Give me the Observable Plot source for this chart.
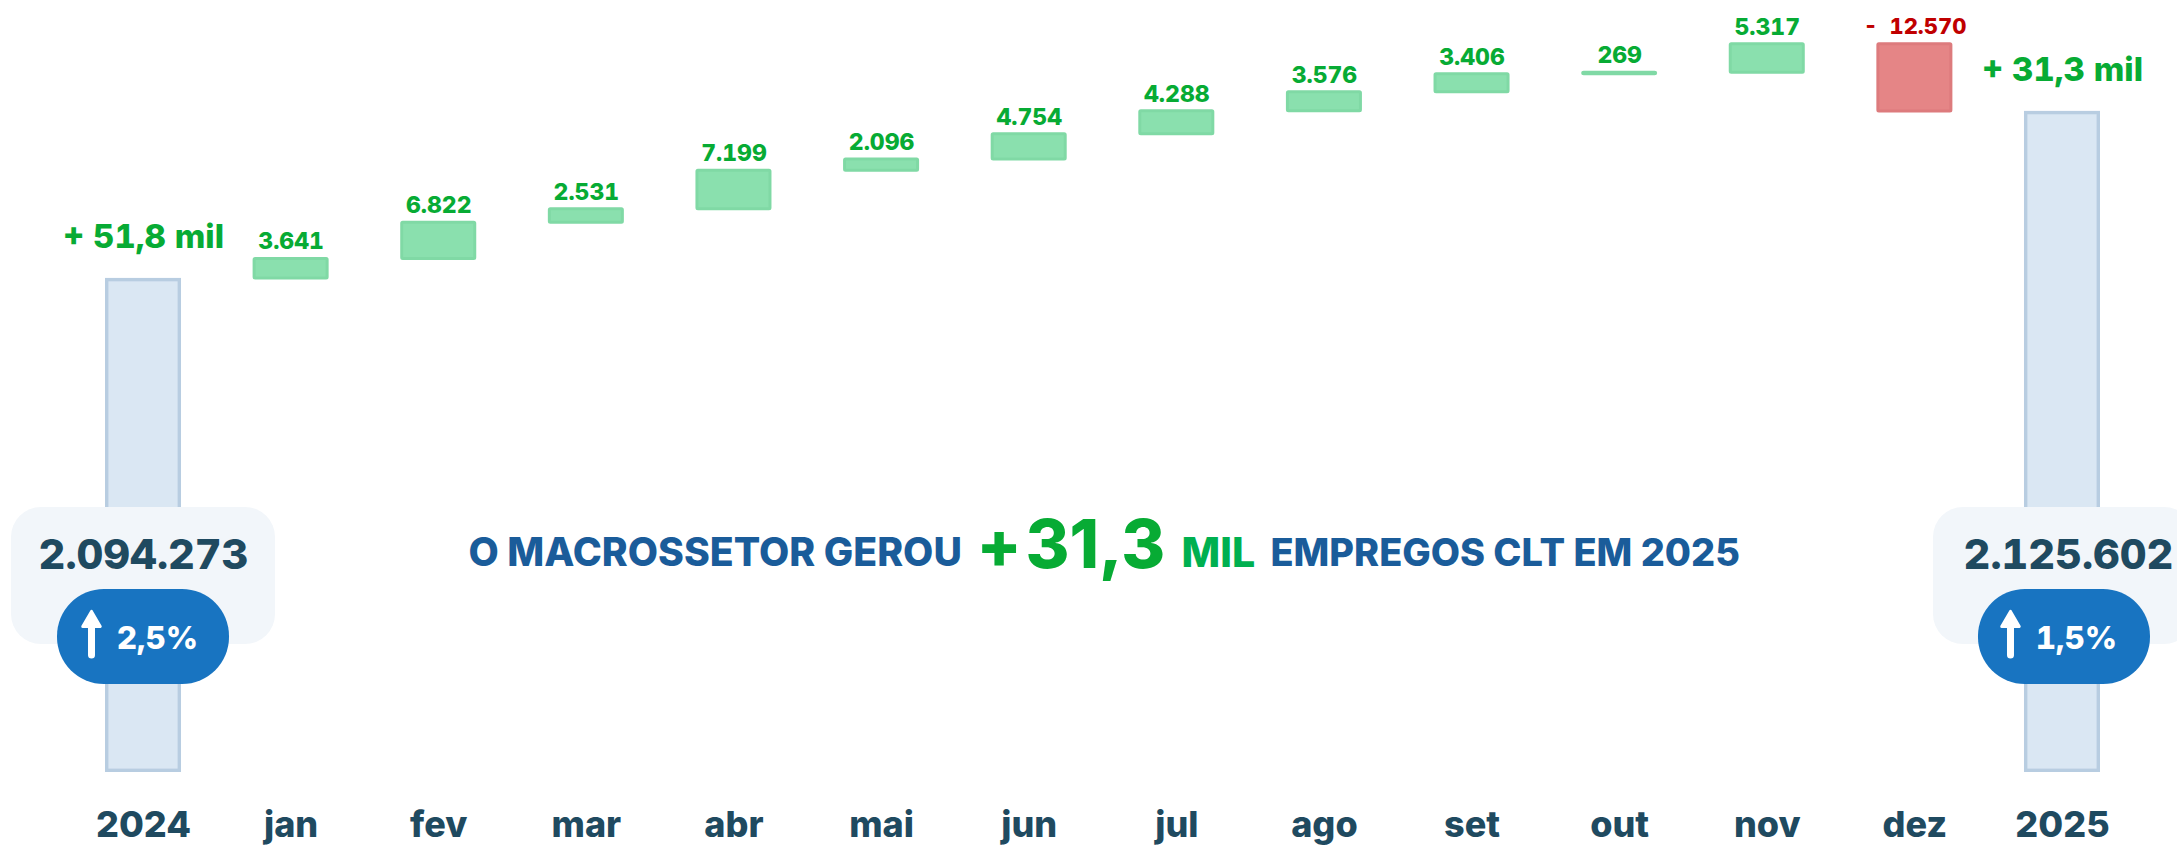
<!DOCTYPE html>
<html lang="pt-BR">
<head>
<meta charset="utf-8">
<script src="https://cdn.jsdelivr.net/npm/d3@7"></script>
<script src="https://cdn.jsdelivr.net/npm/@observablehq/plot@0.6"></script>
<style>html,body{margin:0;padding:0;background:#fff}svg{display:block}</style>
</head>
<body>
<div id="chart"></div>
<script>
const categories = ["2024","jan","fev","mar","abr","mai","jun","jul","ago","set","out","nov","dez","2025"];
const months = ["jan","fev","mar","abr","mai","jun","jul","ago","set","out","nov","dez"];
const monthly = [3641,6822,2531,7199,2096,4754,4288,3576,3406,269,5317,-12570];
const totalYears = ["2024","2025"];
const totals = [2094273,2125602];
const totalLabels = ["2.094.273","2.125.602"];
const growthLabels = ["2,5%","1,5%"];
const yearGain = ["+ 51,8 mil","+ 31,3 mil"];

const W = 2177, H = 845, bottom = 772;
const yDomain = [2001600, 2146400];
const yAt = d3.scaleLinear([bottom, 0], yDomain);   // pixel → value, for annotations

let running = totals[0];
const steps = months.map((m,i)=>{
  const start = running; running += monthly[i];
  return {m, v: monthly[i], start, end: running,
    label: (monthly[i] < 0 ? "-  " : "") + String(Math.abs(monthly[i])).replace(/\B(?=(\d{3})+$)/g,".")};
});
const ups = steps.filter(d=>d.v>=0), downs = steps.filter(d=>d.v<0);
const years = totalYears.map((y,i)=>({y,total:totals[i],label:totalLabels[i],growth:growthLabels[i],gain:yearGain[i]}));

const GREEN="#07ab34", NAVY="#1f4a60", BLUE="#1a5c9a";
const NUM={fontVariant:"tabular-nums", fontWeight:800};
const headline = [
  {t:"O MACROSSETOR GEROU", x:468, fs:39.2, c:BLUE},
  {t:"+", x:976, fs:66, c:GREEN},
  {t:"31,3", x:1025, fs:67, c:GREEN},
  {t:"MIL", x:1181, fs:41, c:"#00b050"},
  {t:"EMPREGOS CLT EM 2025", x:1270, fs:37.9, c:BLUE}
];
const panelShift = [{left:94, right:94, label:0, pill:0},{left:91, right:94, label:6, pill:2}];

const plot = Plot.plot({
  width:W, height:H, marginLeft:0, marginRight:0, marginTop:0, marginBottom:H-bottom,
  style:{fontFamily:"Inter, 'Liberation Sans', sans-serif", background:"#fff", overflow:"hidden"},
  x:{type:"band", domain:categories, range:[69.2,2135.8], paddingInner:0.485, paddingOuter:0.2425, round:false, label:null},
  y:{domain:yDomain, range:[bottom,0], axis:null},
  marks:[
    Plot.axisX({tickSize:0, tickPadding:39, fontSize:36, fontWeight:800, fill:NAVY, label:null}),
    Plot.barY(years,{x:"y", y1:yDomain[0], y2:"total", fill:"#dae7f3", stroke:"#b8cde1", strokeWidth:3.4, inset:1.7}),
    Plot.barY(ups,{x:"m", y1:"start", y2:"end", fill:"#8ae0ae", stroke:"#80d9a5", strokeWidth:3, insetLeft:1.5, insetRight:1.5, rx:1}),
    Plot.barY(downs,{x:"m", y1:"start", y2:"end", fill:"#e58586", stroke:"#dd7b7d", strokeWidth:3, insetLeft:1.5, insetRight:1.5, rx:1}),
    Plot.text(ups,{x:"m", y:"end", text:"label", fontSize:23, ...NUM, fill:GREEN, dy:-17}),
    Plot.text(downs,{x:"m", y:"start", text:"label", fontSize:22, ...NUM, fill:"#c00000", dy:-17}),
    Plot.text(years,{x:"y", y:"total", text:"gain", fontSize:33, ...NUM, fill:GREEN, dy:-41}),
    ...years.flatMap((d,i)=>{
      const s = panelShift[i];
      return [
        Plot.barY([d],{x:"y", y1:yAt(644), y2:yAt(507), fill:"#f2f6fa", insetLeft:-s.left, insetRight:-s.right, rx:30}),
        Plot.text([d],{x:"y", y:yAt(555), text:"label", fontSize:41.5, ...NUM, fill:NAVY, dx:s.label}),
        Plot.barY([d],{x:"y", y1:yAt(684), y2:yAt(589), fill:"#1874c1", insetLeft:-48+s.pill, insetRight:-48-s.pill, rx:47}),
        Plot.ruleX([d],{x:"y", y1:yAt(621), y2:yAt(655), stroke:"#fff", strokeWidth:7, strokeLinecap:"round", dx:-52}),
        Plot.dot([d],{x:"y", y:yAt(621), symbol:"triangle", r:6.5, fill:"#fff", stroke:"#fff", strokeWidth:3, strokeLinejoin:"round", dx:-52}),
        Plot.text([d],{x:"y", y:yAt(638), text:"growth", fontSize:31.5, ...NUM, fill:"#fff", dx:14})
      ];
    }),
    ...headline.map(h=>Plot.text([h],{frameAnchor:"top-left", textAnchor:"start", lineAnchor:"middle", text:"t", dx:h.x, dy:h.fs>60?546:553, fontSize:h.fs, fontWeight:800, fill:h.c}))
  ]
});
document.getElementById("chart").append(plot);
</script>
</body>
</html>
